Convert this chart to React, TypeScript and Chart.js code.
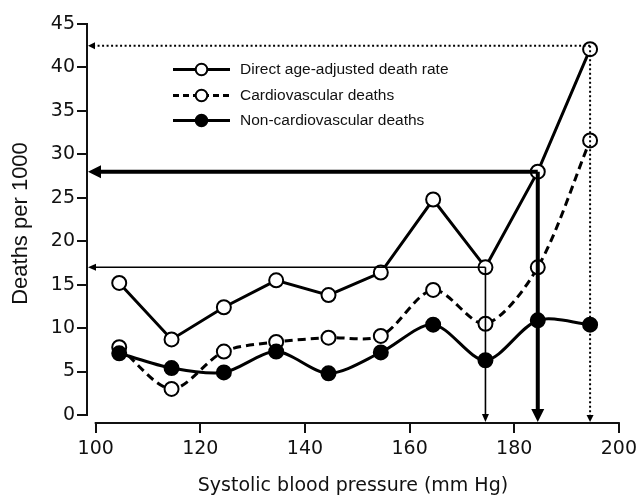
import { useEffect, useRef } from "react";
import { Chart, registerables } from "chart.js";

Chart.register(...registerables);

// Systolic blood pressure class midpoints (mm Hg)
const bpMidpoints = [104.5, 114.5, 124.5, 134.5, 144.5, 154.5, 164.5, 174.5, 184.5, 194.5];
// Deaths per 1000
const directRate = [15.2, 8.7, 12.4, 15.5, 13.8, 16.4, 24.8, 17.0, 28.0, 42.1];
const cardiovascularDeaths = [7.8, 3.0, 7.3, 8.4, 8.9, 9.1, 14.4, 10.5, 17.0, 31.6];
const nonCardiovascularDeaths = [7.1, 5.4, 4.9, 7.3, 4.8, 7.2, 10.4, 6.3, 10.9, 10.4];

const seriesLabels = [
  "Direct age-adjusted death rate",
  "Cardiovascular deaths",
  "Non-cardiovascular deaths",
];

const xTickValues = [100, 120, 140, 160, 180, 200];
const yTickValues = [0, 5, 10, 15, 20, 25, 30, 35, 40, 45];

// Reading guides (arrows) to the axes
const guideX = [174.5, 184.5, 194.5];
const guideY = [17, 28, 42.5];

const INK = "#111";

const toPoints = (vals: number[]) => bpMidpoints.map((x, i) => ({ x, y: vals[i] }));

const guideStyles = [
  { width: 1.6, dash: [] as number[], head: 8, half: 3.5 },
  { width: 4, dash: [] as number[], head: 13, half: 6.5 },
  { width: 2, dash: [2, 2.5], head: 7, half: 3.5 },
];

const overlayPlugin = {
  id: "overlay",
  afterDatasetsDraw(chart: any) {
    const { ctx, chartArea, scales } = chart;
    const xs = scales.x;
    const ys = scales.y;
    const left = chartArea.left;
    const bottom = chartArea.bottom;
    ctx.save();
    // axis lines (offset style)
    ctx.strokeStyle = INK;
    ctx.lineWidth = 2;
    ctx.setLineDash([]);
    ctx.beginPath();
    ctx.moveTo(left, ys.getPixelForValue(yTickValues[0]) + 1);
    ctx.lineTo(left, ys.getPixelForValue(yTickValues[yTickValues.length - 1]) - 1);
    ctx.moveTo(xs.getPixelForValue(xTickValues[0]) - 1, bottom);
    ctx.lineTo(xs.getPixelForValue(xTickValues[xTickValues.length - 1]) + 1, bottom);
    ctx.stroke();

    // guides
    guideX.forEach((gx, i) => {
      const st = guideStyles[i];
      const px = xs.getPixelForValue(gx);
      const py = ys.getPixelForValue(guideY[i]);
      ctx.strokeStyle = "#000";
      ctx.fillStyle = "#000";
      ctx.lineWidth = st.width;
      ctx.lineCap = "butt";
      ctx.setLineDash(st.dash);
      ctx.beginPath();
      ctx.moveTo(px, py);
      ctx.lineTo(left + st.head, py);
      ctx.moveTo(px, py);
      ctx.lineTo(px, bottom - st.head);
      ctx.stroke();
      ctx.setLineDash([]);
      ctx.beginPath();
      ctx.moveTo(left + 1, py);
      ctx.lineTo(left + 1 + st.head, py - st.half);
      ctx.lineTo(left + 1 + st.head, py + st.half);
      ctx.closePath();
      ctx.fill();
      ctx.beginPath();
      ctx.moveTo(px, bottom - 1);
      ctx.lineTo(px - st.half, bottom - 1 - st.head);
      ctx.lineTo(px + st.half, bottom - 1 - st.head);
      ctx.closePath();
      ctx.fill();
    });

    // legend inside plot
    const rows = [
      chart.data.datasets.find((d: any) => d.label === seriesLabels[0]),
      chart.data.datasets.find((d: any) => d.label === seriesLabels[1]),
      chart.data.datasets.find((d: any) => d.label === seriesLabels[2]),
    ];
    const rowY = [69.5, 95.5, 120.5];
    rows.forEach((ds: any, i: number) => {
      const y = rowY[i];
      ctx.strokeStyle = "#000";
      ctx.lineWidth = 3;
      ctx.setLineDash(ds.borderDash && ds.borderDash.length ? [6, 4] : []);
      ctx.beginPath();
      ctx.moveTo(173, y);
      ctx.lineTo(230, y);
      ctx.stroke();
      ctx.setLineDash([]);
      ctx.beginPath();
      ctx.arc(201.5, y, 5.8, 0, Math.PI * 2);
      ctx.fillStyle = ds.pointBackgroundColor;
      ctx.fill();
      ctx.lineWidth = 2;
      ctx.stroke();
      ctx.fillStyle = INK;
      ctx.font = "15.5px 'Liberation Sans', Arial, sans-serif";
      ctx.textBaseline = "middle";
      ctx.textAlign = "left";
      ctx.fillText(ds.label, 240, y);
    });
    ctx.restore();
  },
};

export default function App() {
  const canvasRef = useRef<HTMLCanvasElement | null>(null);

  useEffect(() => {
    document.body.style.margin = "0";
    const canvas = canvasRef.current;
    if (!canvas) return;
    const chart = new Chart(canvas, {
      type: "line",
      data: {
        datasets: [
          {
            label: seriesLabels[2],
            data: toPoints(nonCardiovascularDeaths),
            borderColor: "#000",
            backgroundColor: "#000",
            pointBackgroundColor: "#000",
            pointBorderColor: "#000",
            borderWidth: 3,
            pointRadius: 7,
            pointBorderWidth: 2,
            tension: 0.3,
            order: 0,
          },
          {
            label: seriesLabels[1],
            data: toPoints(cardiovascularDeaths),
            borderColor: "#000",
            backgroundColor: "#fff",
            pointBackgroundColor: "#fff",
            pointBorderColor: "#000",
            borderWidth: 3,
            borderDash: [8, 5],
            pointRadius: 7,
            pointBorderWidth: 2,
            tension: 0.3,
            order: 1,
          },
          {
            label: seriesLabels[0],
            data: toPoints(directRate),
            borderColor: "#000",
            backgroundColor: "#fff",
            pointBackgroundColor: "#fff",
            pointBorderColor: "#000",
            borderWidth: 3,
            pointRadius: 7,
            pointBorderWidth: 2,
            tension: 0,
            order: 2,
          },
        ] as any,
      },
      options: {
        animation: false,
        responsive: false,
        maintainAspectRatio: false,
        layout: { padding: { top: 24, right: 21, left: 0, bottom: 0 } },
        plugins: {
          legend: { display: false },
          tooltip: { enabled: false },
        },
        scales: {
          x: {
            type: "linear",
            min: 98.34,
            max: 200,
            afterBuildTicks: (s: any) => {
              s.ticks = xTickValues.map((v) => ({ value: v }));
            },
            afterFit: (s: any) => {
              s.height = 73;
            },
            border: { display: false },
            grid: {
              drawOnChartArea: false,
              drawTicks: true,
              tickLength: 10,
              color: INK,
              lineWidth: 2,
            },
            ticks: {
              color: INK,
              font: { family: "'DejaVu Sans'", size: 19 },
              padding: 5,
              maxRotation: 0,
              autoSkip: false,
            },
            title: {
              display: true,
              text: "Systolic blood pressure (mm Hg)",
              color: INK,
              font: { family: "'DejaVu Sans'", size: 19, lineHeight: 1 },
              padding: 0,
            },
          },
          y: {
            type: "linear",
            min: -0.92,
            max: 45,
            afterBuildTicks: (s: any) => {
              s.ticks = yTickValues.map((v) => ({ value: v }));
            },
            afterFit: (s: any) => {
              s.width = 87;
            },
            border: { display: false },
            grid: {
              drawOnChartArea: false,
              drawTicks: true,
              tickLength: 10,
              color: INK,
              lineWidth: 2,
            },
            ticks: {
              color: INK,
              font: { family: "'DejaVu Sans'", size: 19 },
              padding: 2,
              autoSkip: false,
            },
            title: {
              display: true,
              text: "Deaths per 1000",
              color: INK,
              font: { family: "'Liberation Sans'", size: 22, lineHeight: 1 },
              padding: { top: 10, bottom: 0 },
            },
          },
        },
      } as any,
      plugins: [overlayPlugin],
    });
    return () => chart.destroy();
  }, []);

  return (
    <div style={{ position: "fixed", left: 0, top: 0, width: 642, height: 496, background: "#fff" }}>
      <canvas ref={canvasRef} width={642} height={496} style={{ width: 642, height: 496, display: "block" }} />
    </div>
  );
}
